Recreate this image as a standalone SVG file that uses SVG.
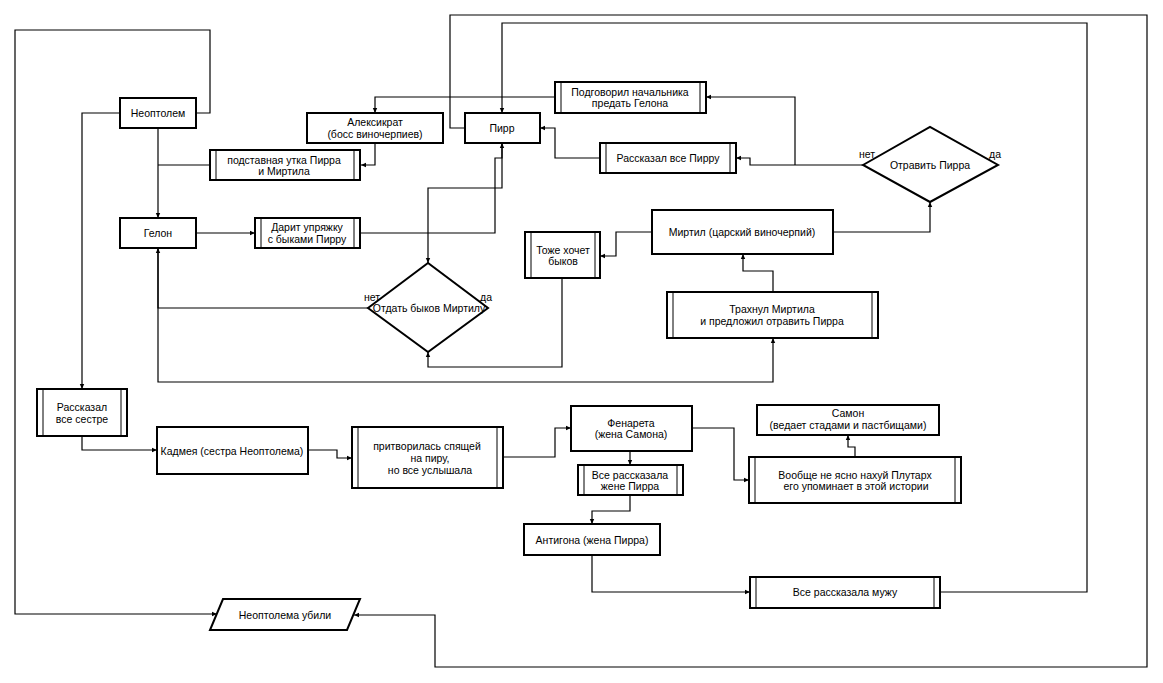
<svg xmlns="http://www.w3.org/2000/svg" width="1163" height="683" viewBox="0 0 1163 683">
<style>
.n{fill:#fff;stroke:#000;stroke-width:2}
.b{stroke:#000;stroke-width:1;fill:none}
.t{font-family:"Liberation Sans",Arial,sans-serif;font-size:10.5px;fill:#000;text-anchor:middle;dominant-baseline:central}
.c{fill:none;stroke:#000;stroke-width:1.2}
</style>
<defs>
<marker id="a" markerWidth="6" markerHeight="6" refX="5" refY="3" orient="auto" markerUnits="userSpaceOnUse">
<path d="M0,0.8 L5,3 L0,5.2 z" fill="#000"/>
</marker>
</defs>
<rect width="1163" height="683" fill="#fff"/>
<g id="connectors" class="c">
<path d="M158,128 V218" marker-end="url(#a)"/>
<path d="M210,165 H158"/>
<path d="M375,143 V165 H361" marker-end="url(#a)"/>
<path d="M555,97 H375 V113" marker-end="url(#a)"/>
<path d="M196,233 H255" marker-end="url(#a)"/>
<path d="M360,233 H495 V158 H502 V143" marker-end="url(#a)"/>
<path d="M502,143 V188 H428 V263" marker-end="url(#a)"/>
<path d="M368,308 H158 V248" marker-end="url(#a)"/>
<path d="M158,248 V382 H773 V338" marker-end="url(#a)"/>
<path d="M773,292 V271 H743 V254" marker-end="url(#a)"/>
<path d="M652,232 H616 V256 H600" marker-end="url(#a)"/>
<path d="M562,278 V367 H428 V352" marker-end="url(#a)"/>
<path d="M833,232 H930 V202" marker-end="url(#a)"/>
<path d="M863,165 H750 V158 H736" marker-end="url(#a)"/>
<path d="M795,165 V97 H706" marker-end="url(#a)"/>
<path d="M600,158 H555 V128 H540" marker-end="url(#a)"/>
<path d="M465,128 H450 V15 H1147 V667 H435 V615 H354" marker-end="url(#a)"/>
<path d="M940,592 H1087 V23 H502 V113" marker-end="url(#a)"/>
<path d="M196,113 H210 V30 H15 V614 H217" marker-end="url(#a)"/>
<path d="M120,113 H82 V389" marker-end="url(#a)"/>
<path d="M82,436 V450 H157" marker-end="url(#a)"/>
<path d="M308,450 H337 V458 H352" marker-end="url(#a)"/>
<path d="M503,457 H555 V428 H571" marker-end="url(#a)"/>
<path d="M630,451 V465" marker-end="url(#a)"/>
<path d="M630,495 V511 H592 V524" marker-end="url(#a)"/>
<path d="M592,555 V592 H750" marker-end="url(#a)"/>
<path d="M692,428 H734 V480 H749" marker-end="url(#a)"/>
<path d="M855,457 V447 H848 V435" marker-end="url(#a)"/>
</g>
<g id="neoptolem"><rect class="n" x="120" y="98" width="76" height="30"/><text class="t" x="158" y="113">Неоптолем</text></g>
<g id="aleksikrat"><rect class="n" x="307" y="113" width="136" height="30"/><text class="t" x="375" y="122">Алексикрат</text><text class="t" x="375" y="134">(босс виночерпиев)</text></g>
<g id="podstavnaya"><rect class="n" x="210" y="150" width="150" height="30"/><line class="b" x1="216" y1="150" x2="216" y2="180"/><line class="b" x1="354" y1="150" x2="354" y2="180"/><text class="t" x="284" y="159.5">подставная утка Пирра</text><text class="t" x="284" y="170.5">и Миртила</text></g>
<g id="gelon"><rect class="n" x="120" y="218" width="76" height="30"/><text class="t" x="158" y="233">Гелон</text></g>
<g id="darit"><rect class="n" x="255" y="218" width="105" height="30"/><line class="b" x1="261" y1="218" x2="261" y2="248"/><line class="b" x1="354" y1="218" x2="354" y2="248"/><text class="t" x="307" y="227">Дарит упряжку</text><text class="t" x="307" y="239">с быками Пирру</text></g>
<g id="podgovoril"><rect class="n" x="555" y="82" width="151" height="31"/><line class="b" x1="561" y1="82" x2="561" y2="113"/><line class="b" x1="700" y1="82" x2="700" y2="113"/><text class="t" x="630" y="91.5">Подговорил начальника</text><text class="t" x="630" y="103">предать Гелона</text></g>
<g id="pirr"><rect class="n" x="465" y="113" width="75" height="30"/><text class="t" x="502" y="128">Пирр</text></g>
<g id="rasskazal-pirru"><rect class="n" x="600" y="143" width="136" height="30"/><line class="b" x1="606" y1="143" x2="606" y2="173"/><line class="b" x1="730" y1="143" x2="730" y2="173"/><text class="t" x="668" y="158">Рассказал все Пирру</text></g>
<g id="otravit"><polygon class="n" points="863,165 930,127 998,165 930,202"/><text class="t" x="930" y="165">Отравить Пирра</text><text class="t" x="867" y="154">нет</text><text class="t" x="995" y="154">да</text></g>
<g id="mirtil"><rect class="n" x="652" y="210" width="181" height="44"/><text class="t" x="742" y="232">Миртил (царский виночерпий)</text></g>
<g id="tozhe"><rect class="n" x="525" y="232" width="75" height="46"/><line class="b" x1="531" y1="232" x2="531" y2="278"/><line class="b" x1="595" y1="232" x2="595" y2="278"/><text class="t" x="563" y="249.5">Тоже хочет</text><text class="t" x="563" y="261">быков</text></g>
<g id="trakhnul"><rect class="n" x="667" y="292" width="211" height="46"/><line class="b" x1="673" y1="292" x2="673" y2="338"/><line class="b" x1="872" y1="292" x2="872" y2="338"/><text class="t" x="772" y="309">Трахнул Миртила</text><text class="t" x="772" y="320.5">и предложил отравить Пирра</text></g>
<g id="otdat"><polygon class="n" points="368,308 428,263 488,308 428,352"/><text class="t" x="429" y="307.5">Отдать быков Миртилу</text><text class="t" x="372" y="297">нет</text><text class="t" x="486" y="297">да</text></g>
<g id="rasskazal-sestre"><rect class="n" x="37" y="389" width="90" height="47"/><line class="b" x1="43" y1="389" x2="43" y2="436"/><line class="b" x1="121" y1="389" x2="121" y2="436"/><text class="t" x="82" y="406.5">Рассказал</text><text class="t" x="82" y="418.5">все сестре</text></g>
<g id="kadmeya"><rect class="n" x="157" y="427" width="151" height="47"/><text class="t" x="232" y="451">Кадмея (сестра Неоптолема)</text></g>
<g id="pritvorilas"><rect class="n" x="352" y="427" width="151" height="61"/><line class="b" x1="358" y1="427" x2="358" y2="488"/><line class="b" x1="497" y1="427" x2="497" y2="488"/><text class="t" x="427" y="446">притворилась спящей</text><text class="t" x="430" y="458">на пиру,</text><text class="t" x="430" y="469.5">но все услышала</text></g>
<g id="fenareta"><rect class="n" x="571" y="406" width="121" height="45"/><text class="t" x="631" y="422.5">Фенарета</text><text class="t" x="631" y="434">(жена Самона)</text></g>
<g id="vse-zhene"><rect class="n" x="578" y="465" width="105" height="30"/><line class="b" x1="584" y1="465" x2="584" y2="495"/><line class="b" x1="677" y1="465" x2="677" y2="495"/><text class="t" x="630" y="474.5">Все рассказала</text><text class="t" x="630" y="485.5">жене Пирра</text></g>
<g id="antigona"><rect class="n" x="524" y="524" width="136" height="31"/><text class="t" x="592" y="540">Антигона (жена Пирра)</text></g>
<g id="vse-muzhu"><rect class="n" x="750" y="577" width="190" height="31"/><line class="b" x1="756" y1="577" x2="756" y2="608"/><line class="b" x1="934" y1="577" x2="934" y2="608"/><text class="t" x="845" y="592">Все рассказала мужу</text></g>
<g id="voobshche"><rect class="n" x="749" y="457" width="212" height="46"/><line class="b" x1="755" y1="457" x2="755" y2="503"/><line class="b" x1="955" y1="457" x2="955" y2="503"/><text class="t" x="855" y="474.5">Вообще не ясно нахуй Плутарх</text><text class="t" x="856" y="486">его упоминает в этой истории</text></g>
<g id="samon"><rect class="n" x="757" y="405" width="182" height="30"/><text class="t" x="848" y="413">Самон</text><text class="t" x="848" y="425">(ведает стадами и пастбищами)</text></g>
<g id="ubili"><polygon class="n" points="223,599 360,599 347,630 210,630"/><text class="t" x="285" y="615">Неоптолема убили</text></g>
</svg>
